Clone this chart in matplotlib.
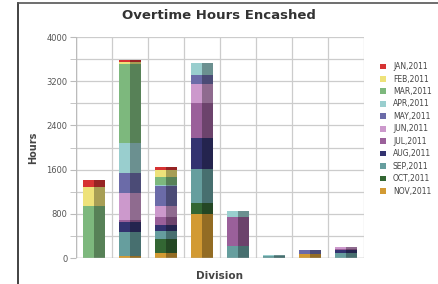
import numpy as np
import matplotlib.pyplot as plt
from matplotlib.colors import to_rgb
from matplotlib.lines import Line2D

months = ['JAN,2011', 'FEB,2011', 'MAR,2011', 'APR,2011', 'MAY,2011', 'JUN,2011',
          'JUL,2011', 'AUG,2011', 'SEP,2011', 'OCT,2011', 'NOV,2011']
colors = ['#d63333', '#eee27a', '#7db87d', '#99cece', '#6b6ba8', '#cc99cc',
          '#9a609a', '#333370', '#669e9e', '#336633', '#d29a33']

divisions = [1, 2, 3, 4, 5, 6, 7, 8]

# hours per month (rows) for each division (columns)
jan = [120, 36, 72, 0, 0, 0, 0, 0]
feb = [348, 30, 126, 0, 0, 0, 0, 0]
mar = [937, 1441, 132, 0, 0, 0, 0, 0]
apr = [0, 546, 24, 228, 102, 24, 0, 0]
may = [0, 354, 366, 150, 0, 0, 66, 0]
jun = [0, 492, 192, 342, 0, 0, 0, 47]
jul = [0, 42, 138, 648, 522, 0, 0, 20]
aug = [0, 168, 114, 552, 0, 0, 0, 42]
sep = [0, 432, 156, 618, 222, 36, 0, 96]
octo = [0, 15, 252, 204, 0, 0, 0, 0]
nov = [0, 30, 84, 792, 0, 0, 78, 0]

series = [jan, feb, mar, apr, may, jun, jul, aug, sep, octo, nov]

fig = plt.figure(figsize=(4.38, 2.84), dpi=100)
ax = fig.add_axes([0.1735, 0.0915, 0.6575, 0.7782])

x = np.arange(len(divisions)) + 0.5
w = 0.3
bottom = np.zeros(len(divisions))
# stack from NOV at the bottom up to JAN
for name, vals, c in reversed(list(zip(months, series, colors))):
    vals = np.array(vals, dtype=float)
    dark = tuple(v * 0.7 for v in to_rgb(c))
    ax.bar(x - w / 2, vals, w, bottom=bottom, color=c, linewidth=0, zorder=3, label=name)
    ax.bar(x + w / 2, vals, w, bottom=bottom, color=dark, linewidth=0, zorder=3)
    bottom += vals

ax.set_xlim(0, 8)
ax.set_ylim(0, 4000)
ax.set_xticks(np.arange(0, 9))
ax.set_xticklabels([])
ax.tick_params(axis='x', length=0)
ax.set_yticks(np.arange(0, 4001, 800))
ax.set_yticks(np.arange(0, 4001, 400), minor=True)
ax.tick_params(axis='y', which='both', length=4, color='#bbbbbb', labelsize=6,
               labelcolor='#555555', pad=2)
ax.grid(True, which='both', color='#cccccc', linewidth=0.9, zorder=0)
for s in ax.spines.values():
    s.set_visible(False)
ax.axhline(0, color='#bbbbbb', linewidth=1, zorder=4)
ax.axvline(0, color='#bbbbbb', linewidth=1, zorder=4)

ax.set_ylabel('Hours', fontsize=7, fontweight='bold', color='#444444', labelpad=6)
ax.set_xlabel('Division', fontsize=7.5, fontweight='bold', color='#444444', labelpad=6)
fig.text(0.5, 0.945, 'Overtime Hours Encashed', ha='center', va='center',
         fontsize=9.5, fontweight='bold', color='#333333')

handles, labels = ax.get_legend_handles_labels()
ax.legend(handles[::-1], labels[::-1], loc='upper left', bbox_to_anchor=(1.045, 0.9),
          frameon=False, fontsize=5.5, labelcolor='#444444', handlelength=0.8,
          handleheight=0.8, handletextpad=0.9, labelspacing=0.45, borderaxespad=0)

# screenshot frame on the top and left edges
fig.add_artist(Line2D([0.041, 0.041], [0, 0.99], color='#222222', linewidth=1.2))
fig.add_artist(Line2D([0.041, 1], [0.99, 0.99], color='#555555', linewidth=1.2))

fig.savefig('out.png', dpi=100)
